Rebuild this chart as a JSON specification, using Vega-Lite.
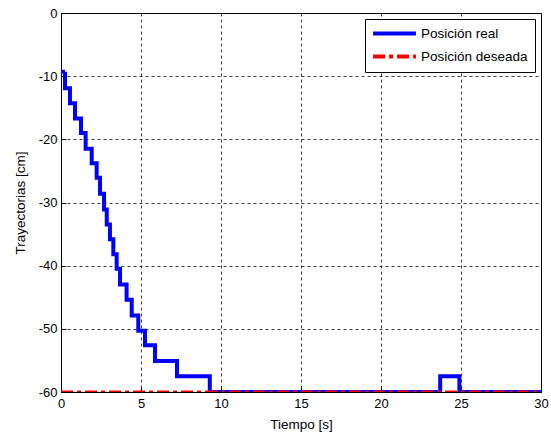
{
  "$schema": "https://vega.github.io/schema/vega-lite/v6.json",
  "width": 480,
  "height": 379,
  "autosize": {"type": "none"},
  "padding": {"left": 61, "top": 13, "right": 10, "bottom": 48},
  "background": "white",
  "config": {
    "view": {"stroke": "black", "strokeWidth": 1},
    "font": "Liberation Sans",
    "axis": {
      "domainColor": "black",
      "tickColor": "black",
      "tickSize": -5,
      "labelColor": "black",
      "labelFont": "Liberation Sans",
      "labelFontSize": 13,
      "titleFont": "Liberation Sans",
      "titleFontSize": 13.5,
      "titleFontWeight": "normal",
      "titleColor": "black",
      "gridColor": "black",
      "gridDash": [3, 3],
      "gridOpacity": 0.75,
      "gridWidth": 1
    }
  },
  "datasets": {
    "real": [
      {"t": 0, "y": -9.3, "serie": "Posición real"},
      {"t": 0.25, "y": -11.9, "serie": "Posición real"},
      {"t": 0.56, "y": -14.3, "serie": "Posición real"},
      {"t": 0.875, "y": -16.7, "serie": "Posición real"},
      {"t": 1.25, "y": -19.0, "serie": "Posición real"},
      {"t": 1.54, "y": -21.5, "serie": "Posición real"},
      {"t": 1.92, "y": -23.8, "serie": "Posición real"},
      {"t": 2.23, "y": -26.1, "serie": "Posición real"},
      {"t": 2.44, "y": -28.6, "serie": "Posición real"},
      {"t": 2.69, "y": -31.1, "serie": "Posición real"},
      {"t": 2.86, "y": -33.5, "serie": "Posición real"},
      {"t": 3.06, "y": -35.8, "serie": "Posición real"},
      {"t": 3.27, "y": -38.2, "serie": "Posición real"},
      {"t": 3.48, "y": -40.5, "serie": "Posición real"},
      {"t": 3.69, "y": -43.0, "serie": "Posición real"},
      {"t": 4.1, "y": -45.4, "serie": "Posición real"},
      {"t": 4.42, "y": -47.9, "serie": "Posición real"},
      {"t": 4.83, "y": -50.3, "serie": "Posición real"},
      {"t": 5.25, "y": -52.6, "serie": "Posición real"},
      {"t": 5.875, "y": -55.1, "serie": "Posición real"},
      {"t": 7.25, "y": -57.5, "serie": "Posición real"},
      {"t": 9.3, "y": -60, "serie": "Posición real"},
      {"t": 23.7, "y": -57.5, "serie": "Posición real"},
      {"t": 24.9, "y": -60, "serie": "Posición real"},
      {"t": 30, "y": -60, "serie": "Posición real"}
    ],
    "deseada": [
      {"t": 0, "y": -60, "serie": "Posición deseada"},
      {"t": 30, "y": -60, "serie": "Posición deseada"}
    ]
  },
  "encoding": {
    "x": {
      "field": "t", "type": "quantitative",
      "scale": {"domain": [0, 30], "nice": false, "zero": false},
      "axis": {"title": "Tiempo [s]", "values": [0, 5, 10, 15, 20, 25, 30], "labelPadding": 10, "titlePadding": 7, "labelFlush": false}
    },
    "y": {
      "field": "y", "type": "quantitative",
      "scale": {"domain": [-60, 0], "nice": false, "zero": false},
      "axis": {"title": "Trayectorias [cm]", "values": [0, -10, -20, -30, -40, -50, -60], "labelExpr": "'' + datum.value", "labelPadding": 9, "titlePadding": 11, "labelFlush": false}
    },
    "color": {
      "field": "serie", "type": "nominal",
      "scale": {"domain": ["Posición real", "Posición deseada"], "range": ["#0000ff", "#ff0000"]},
      "legend": {
        "title": null,
        "orient": "top-right",
        "offset": 6,
        "symbolType": "M-4,0H4",
        "symbolSize": 115,
        "symbolStrokeWidth": 4,
        "symbolOffset": 15,
        "labelFontSize": 13.5,
        "labelFont": "Liberation Sans",
        "labelColor": "black",
        "strokeColor": "black",
        "fillColor": "white",
        "padding": 7,
        "rowPadding": 6,
        "labelOffset": 19
      }
    },
    "strokeDash": {
      "field": "serie", "type": "nominal",
      "scale": {"domain": ["Posición real", "Posición deseada"], "range": [[1, 0], [12, 4, 4, 4]]},
      "legend": null
    }
  },
  "layer": [
    {
      "data": {"name": "real"},
      "mark": {"type": "line", "interpolate": "step-after", "strokeWidth": 4, "clip": true}
    },
    {
      "data": {"name": "deseada"},
      "mark": {"type": "line", "strokeWidth": 3, "clip": true}
    }
  ]
}
